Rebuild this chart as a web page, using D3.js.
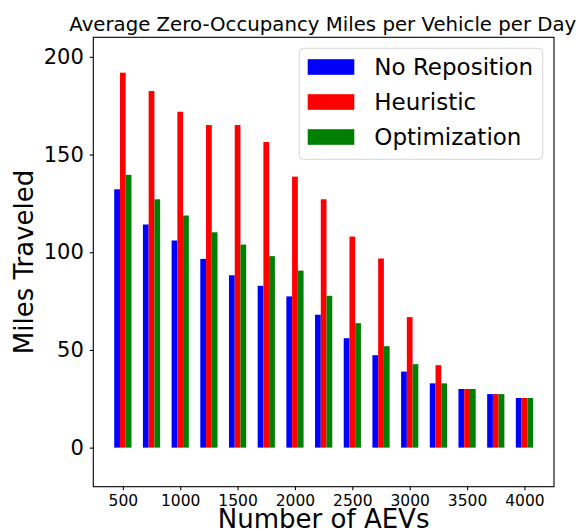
<!DOCTYPE html>
<html>
<head>
<meta charset="utf-8">
<script src="https://cdn.jsdelivr.net/npm/d3@7/dist/d3.min.js"></script>
<style>
  body { margin: 0; background: #fff; }
  svg { display: block; font-family: "DejaVu Sans", sans-serif; }
</style>
</head>
<body>
<svg id="chart" width="580" height="531"></svg>
<script>
const fleetSizes = [500, 750, 1000, 1250, 1500, 1750, 2000, 2250, 2500, 2750, 3000, 3250, 3500, 3750, 4000];
const noReposition = [132.2, 114.2, 106.0, 96.6, 88.2, 82.8, 77.4, 68.0, 56.0, 47.3, 38.9, 32.9, 30.0, 27.4, 25.4];
const heuristic    = [191.9, 182.5, 171.9, 165.1, 165.1, 156.4, 138.7, 127.1, 108.0, 96.8, 66.8, 42.2, 30.0, 27.4, 25.4];
const optimization = [139.6, 127.1, 118.8, 110.2, 103.9, 98.0, 90.6, 77.7, 63.7, 51.9, 42.7, 32.9, 30.0, 27.4, 25.4];
const xTickValues = [500, 1000, 1500, 2000, 2500, 3000, 3500, 4000];
const yTickValues = [0, 50, 100, 150, 200];
const seriesNames = ["No Reposition", "Heuristic", "Optimization"];
const seriesColors = ["#0000ff", "#ff0000", "#008000"];

const svg = d3.select("#chart");
const L = 93.3, R = 554, T = 37.3, B = 486.7;
const barW = 50;
const x = d3.scaleLinear().domain([242.5, 4257.5]).range([L, R]);
const y = d3.scaleLinear().domain([-20, 210]).range([B, T]);

const series = [noReposition, heuristic, optimization];
const offsets = [-barW, 0, barW];

series.forEach((vals, si) => {
  svg.append("g").selectAll("rect").data(vals).join("rect")
    .attr("x", (d, i) => x(fleetSizes[i] + offsets[si] - barW / 2))
    .attr("width", (d, i) => x(fleetSizes[i] + offsets[si] + barW / 2) - x(fleetSizes[i] + offsets[si] - barW / 2))
    .attr("y", d => y(d))
    .attr("height", d => y(0) - y(d))
    .attr("fill", seriesColors[si]);
});

// frame
svg.append("rect").attr("x", L).attr("y", T).attr("width", R - L).attr("height", B - T)
  .attr("fill", "none").attr("stroke", "#000").attr("stroke-width", 1.1);

// axes
const xAxis = svg.append("g").attr("transform", `translate(0,${B})`)
  .call(d3.axisBottom(x).tickValues(xTickValues).tickSize(3.5).tickPadding(5).tickFormat(d3.format("d")));
xAxis.select(".domain").remove();
xAxis.selectAll("line").attr("stroke", "#000").attr("stroke-width", 1.1);
xAxis.selectAll("text").attr("font-size", 15.5).attr("fill", "#000").attr("font-family", "DejaVu Sans");

const yAxis = svg.append("g").attr("transform", `translate(${L},0)`)
  .call(d3.axisLeft(y).tickValues(yTickValues).tickSize(3.5).tickPadding(6).tickFormat(d3.format("d")));
yAxis.select(".domain").remove();
yAxis.selectAll("line").attr("stroke", "#000").attr("stroke-width", 1.1);
yAxis.selectAll("text").attr("font-size", 21).attr("fill", "#000").attr("font-family", "DejaVu Sans");

// title
svg.append("text").attr("x", 69.3).attr("y", 30.7).attr("text-anchor", "start")
  .attr("font-size", 20).attr("textLength", 507).attr("lengthAdjust", "spacingAndGlyphs")
  .attr("fill", "#000").text("Average Zero-Occupancy Miles per Vehicle per Day");

// axis labels
svg.append("text").attr("x", (L + R) / 2).attr("y", 528).attr("text-anchor", "middle")
  .attr("font-size", 26).attr("fill", "#000").text("Number of AEVs");
svg.append("text").attr("transform", `translate(33,${(T + B) / 2}) rotate(-90)`).attr("text-anchor", "middle")
  .attr("font-size", 26).attr("fill", "#000").text("Miles Traveled");

// legend
const lg = svg.append("g");
lg.append("rect").attr("x", 299.3).attr("y", 48.3).attr("width", 243.4).attr("height", 111)
  .attr("rx", 4).attr("fill", "#fff").attr("fill-opacity", 0.8).attr("stroke", "#d6d6d6").attr("stroke-width", 1);
seriesNames.forEach((name, i) => {
  const cy = 67 + i * 35;
  lg.append("rect").attr("x", 307.7).attr("y", cy - 7.8).attr("width", 46.6).attr("height", 15.6)
    .attr("fill", seriesColors[i]);
  lg.append("text").attr("x", 374.3).attr("y", cy).attr("dy", "0.36em")
    .attr("font-size", 23).attr("fill", "#000").text(name);
});
</script>
</body>
</html>
